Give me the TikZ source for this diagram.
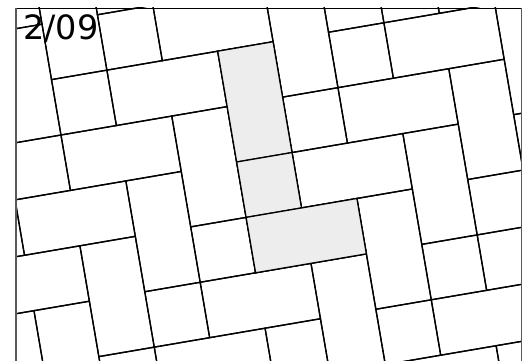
\documentclass[tikz,border=0pt]{standalone}
\usepackage{fontspec}
\setsansfont{DejaVu Sans}
\usetikzlibrary{calc}
\definecolor{shade}{HTML}{ECEDEC}
\tikzset{tile/.style={draw=black, line width=1.3pt},
         pick/.style={tile, fill=shade}}
\newcommand{\tilebox}[5][tile]{\draw[#1] (#2,#3) -- (#4,#3) -- (#4,#5) -- (#2,#5) -- cycle;}

\begin{document}
\begin{tikzpicture}[x=1pt,y=-1pt]
    \useasboundingbox (0,0) rectangle (527,361);
    \begin{scope}
        \clip (16,8) rectangle (521.7,361);
        \begin{scope}[shift={(217.7pt,-51.2pt)}, x={(55.4pt,9.47pt)}, y={(9.47pt,-55.4pt)}]
            \foreach \n in {-8,...,8} {
                \foreach \m in {-3,...,4} {
                    \begin{scope}[shift={(\n+2*\m,-\n+3*\m)}]
                        \tilebox{0}{0}{1}{2}
                        \tilebox{0}{2}{1}{3}
                        \tilebox{0}{3}{2}{4}
                    \end{scope}
                }
            }
            % the marked piece
            \tilebox[pick]{0}{0}{1}{2}
            \tilebox[pick]{0}{2}{1}{3}
            \tilebox[pick]{0}{3}{2}{4}
        \end{scope}
    \end{scope}
    \draw[line width=0.9pt] (16,8) -- (521.7,8);
    \draw[line width=1.1pt, black!65] (16,8) -- (16,361);
    \draw[line width=1.1pt, black!65] (521.7,8) -- (521.7,361);
    \node[anchor=base west, inner sep=0pt, font=\sffamily\fontsize{33.5}{40}\selectfont] (date) at (23,40) {2/09};
\end{tikzpicture}
\end{document}
